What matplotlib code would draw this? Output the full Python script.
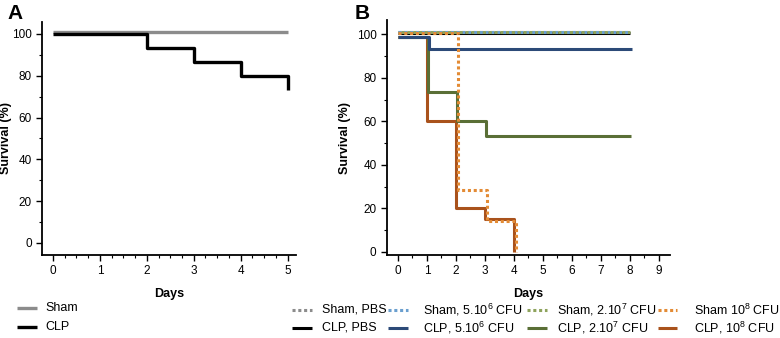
import matplotlib
matplotlib.use('Agg')
import matplotlib.pyplot as plt
from matplotlib.ticker import MultipleLocator
from matplotlib.lines import Line2D

plt.rcParams['font.family'] = ['Liberation Sans', 'DejaVu Sans']
plt.rcParams['mathtext.fontset'] = 'custom'
plt.rcParams['mathtext.rm'] = 'Liberation Sans'
plt.rcParams['mathtext.it'] = 'Liberation Sans'

# Panel A: step survival curves
days_a = [0, 1, 2, 3, 4, 5]
sham_a = [100, 100, 100, 100, 100, 100]
clp_a = [100, 100, 93.3, 86.7, 80.0, 73.3]

# Panel B
days_b = [0, 1, 2, 3, 4, 5, 6, 7, 8]
sham_pbs = [100, 100, 100, 100, 100, 100, 100, 100, 100]
sham_5e6 = [100, 100, 100, 100, 100, 100, 100, 100, 100]
sham_2e7 = [100, 100, 100, 100, 100, 100, 100, 100, 100]
clp_pbs = [100, 100, 100, 100, 100, 100, 100, 100, 100]
clp_5e6 = [100, 93.3, 93.3, 93.3, 93.3, 93.3, 93.3, 93.3, 93.3]
clp_2e7 = [100, 73.3, 60.0, 53.3, 53.3, 53.3, 53.3, 53.3, 53.3]
days_b_short = [0, 1, 2, 3, 4]
sham_1e8 = [100, 100, 28.6, 14.3, 0]
clp_1e8 = [100, 60.0, 20.0, 15.0, 0]

col_gray = '#8c8c8c'
col_blue_l = '#6a9fcf'
col_green_l = '#8ea35c'
col_orange_l = '#e38b35'
col_blue = '#2c4a78'
col_green = '#5a6f36'
col_orange = '#a9521c'
dot = (0, (1.0, 0.9))

W, H = 780, 338


def step_xy(x, y):
    # post-step with a final drop drawn at the last point
    xs, ys = [x[0]], [y[0]]
    for i in range(1, len(x)):
        xs += [x[i], x[i]]
        ys += [y[i - 1], y[i]]
    return xs, ys


def style_axis(ax, labx):
    for s in ['top', 'right']:
        ax.spines[s].set_visible(False)
    for s in ['left', 'bottom']:
        ax.spines[s].set_linewidth(1.3)
    ax.tick_params(which='major', direction='out', length=4, width=1, labelsize=8.5, pad=3.5)
    ax.tick_params(which='minor', direction='out', length=2.5, width=0.8)
    ax.set_ylabel('Survival (%)', fontsize=9, fontweight='bold')
    ax.yaxis.set_label_coords(labx, 0.5)
    ax.set_xlabel('Days', fontsize=9, fontweight='bold', labelpad=8)


def legend_entry(x0, x1, xt, y, color, ls, label, lw=2.2):
    # hand-placed legend entry, pixel positions from the top-left corner
    fy = 1 - y / H
    fig.add_artist(Line2D([x0 / W, x1 / W], [fy, fy], transform=fig.transFigure,
                          color=color, ls=ls, lw=lw, solid_capstyle='butt'))
    fig.text(xt / W, fy, label, fontsize=9, va='center', ha='left')


fig = plt.figure(figsize=(7.8, 3.38), dpi=100)
axA = fig.add_axes([0.054, 0.246, 0.325, 0.689])
axB = fig.add_axes([0.496, 0.246, 0.363, 0.694])

# --- A ---
xs, ys = step_xy(days_a, sham_a)
axA.plot(xs, [v + 1 for v in ys], color=col_gray, lw=2.4, solid_capstyle='butt')
x1 = [0, 2, 2, 3, 3, 4, 4, 5, 5]
y1 = [clp_a[0], clp_a[0], clp_a[2], clp_a[2], clp_a[3], clp_a[3], clp_a[4], clp_a[4], clp_a[5]]
axA.plot(x1, y1, color='black', lw=2.4, solid_capstyle='butt')
axA.set_xlim(-0.23, 5.17)
axA.set_ylim(-5.7, 105.7)
axA.xaxis.set_major_locator(MultipleLocator(1))
axA.xaxis.set_minor_locator(MultipleLocator(0.25))
axA.yaxis.set_major_locator(MultipleLocator(20))
axA.yaxis.set_minor_locator(MultipleLocator(10))
style_axis(axA, -0.12)

# --- B ---
series = [
    (days_b, clp_pbs, 'black', '-', 0.8, 0, 'CLP, PBS'),
    (days_b, sham_pbs, col_gray, dot, 1.3, 0, 'Sham, PBS'),
    (days_b, sham_5e6, col_blue_l, dot, 1.3, 0, 'Sham, 5.10$^{6}$ CFU'),
    (days_b, sham_2e7, col_green_l, (0.9, (1.0, 0.9)), 1.3, 0, 'Sham, 2.10$^{7}$ CFU'),
    (days_b_short, clp_1e8, col_orange, '-', -1.0, 0, 'CLP, 10$^{8}$ CFU'),
    (days_b, clp_2e7, col_green, '-', -1.0, 0.03, 'CLP, 2.10$^{7}$ CFU'),
    (days_b, clp_5e6, col_blue, '-', -1.0, 0.06, 'CLP, 5.10$^{6}$ CFU'),
    (days_b_short, sham_1e8, col_orange_l, dot, 0.6, 0.06, 'Sham 10$^{8}$ CFU'),
]
styles = {}
for x, y, c, ls, dy, dx, lab in series:
    xs, ys = step_xy(x, y)
    xs = [v + dx if 0 < v else v for v in xs]
    ys = [v + dy if v >= 99 else v for v in ys]
    axB.plot(xs, ys, color=c, ls=ls, lw=2.2, solid_capstyle='butt')
    styles[lab] = (c, ls if ls == '-' else dot)
axB.set_xlim(-0.38, 9.38)
axB.set_ylim(-1.4, 106.5)
axB.xaxis.set_major_locator(MultipleLocator(1))
axB.xaxis.set_minor_locator(MultipleLocator(0.5))
axB.yaxis.set_major_locator(MultipleLocator(20))
axB.yaxis.set_minor_locator(MultipleLocator(10))
style_axis(axB, -0.127)

fig.text(0.010, 0.945, 'A', fontsize=15, fontweight='bold')
fig.text(0.455, 0.945, 'B', fontsize=15, fontweight='bold')

# legends
legend_entry(17, 37, 45, 308, col_gray, '-', 'Sham', lw=2.4)
legend_entry(17, 37, 45, 327, 'black', '-', 'CLP', lw=2.4)

legend_cols = [(['Sham, PBS', 'CLP, PBS'], 292, 312, 322),
               (['Sham, 5.10$^{6}$ CFU', 'CLP, 5.10$^{6}$ CFU'], 388, 408, 423),
               (['Sham, 2.10$^{7}$ CFU', 'CLP, 2.10$^{7}$ CFU'], 527, 547, 557),
               (['Sham 10$^{8}$ CFU', 'CLP, 10$^{8}$ CFU'], 658, 677, 694)]
for labs, x0, x1, xt in legend_cols:
    for lab, yy in zip(labs, [310, 328]):
        c, ls = styles[lab]
        legend_entry(x0, x1, xt, yy, c, ls, lab)

fig.savefig('out.png', dpi=100)
